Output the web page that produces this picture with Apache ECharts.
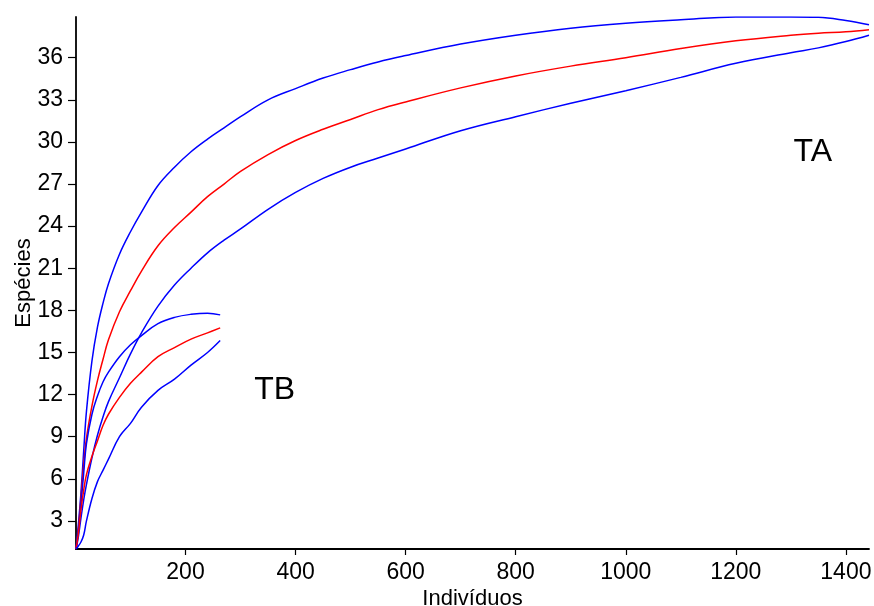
<!DOCTYPE html>
<html>
<head>
<meta charset="utf-8">
<title>Curvas de rarefação</title>
<script src="https://cdn.jsdelivr.net/npm/echarts@6/dist/echarts.min.js"></script>
<style>
  html, body { margin: 0; padding: 0; background: #fff; }
  #chart { width: 874px; height: 606px; }
</style>
</head>
<body>
<div id="chart"></div>
<script>
// Sample sizes (individuals) for each transect
const xTA = [1, 5, 10, 15, 20, 30, 40, 50, 60, 80, 100, 120, 150, 180, 210, 240, 270, 300,
             350, 400, 450, 500, 550, 600, 700, 800, 900, 1000, 1100, 1200, 1300, 1350, 1400, 1442];
const xTB = [1, 5, 10, 15, 20, 30, 40, 50, 60, 80, 100, 120, 150, 180, 210, 240, 263];

// Transect TA: expected species and 95% confidence bounds
const taUpper = [1, 2.6, 5.0, 8.0, 10.8, 14.4, 16.8, 18.5, 19.9, 22.0, 23.6, 25.0, 26.9, 28.2, 29.3, 30.2, 31.0, 31.8,
                 33.0, 33.8, 34.55, 35.15, 35.7, 36.15, 36.97, 37.6, 38.1, 38.45, 38.7, 38.9, 38.9, 38.88, 38.65, 38.35];
const taMean  = [1, 2.3, 4.6, 7.0, 8.9, 11.2, 13.0, 14.5, 15.9, 17.9, 19.4, 20.8, 22.6, 23.9, 25.0, 26.1, 27.0, 27.9,
                 29.1, 30.1, 30.9, 31.6, 32.3, 32.85, 33.85, 34.7, 35.4, 36.0, 36.65, 37.2, 37.6, 37.75, 37.85, 38.0];
const taLower = [1, 1.8, 3.2, 4.5, 5.6, 7.5, 9.1, 10.4, 11.5, 13.2, 14.9, 16.4, 18.3, 19.8, 21.0, 22.1, 23.0, 23.8,
                 25.2, 26.4, 27.4, 28.2, 28.85, 29.5, 30.8, 31.8, 32.75, 33.65, 34.6, 35.6, 36.35, 36.7, 37.15, 37.6];

// Transect TB: expected species and 95% confidence bounds
const tbUpper = [1, 2.2, 4.2, 6.4, 8.5, 10.6, 11.9, 12.9, 13.6, 14.7, 15.55, 16.2, 17.05, 17.5, 17.72, 17.8, 17.68];
const tbMean  = [1, 2.0, 3.8, 5.2, 6.3, 7.6, 8.7, 9.8, 10.6, 11.8, 12.8, 13.6, 14.7, 15.35, 15.95, 16.4, 16.75];
const tbLower = [1, 1.2, 1.5, 2.0, 3.0, 4.6, 5.8, 6.6, 7.4, 9.0, 9.95, 11.1, 12.3, 13.1, 14.1, 15.0, 15.85];

// Axis ticks
const yTicks = [3, 6, 9, 12, 15, 18, 21, 24, 27, 30, 33, 36];
const xTicks = [200, 400, 600, 800, 1000, 1200, 1400];

// Transect names and their anchor points in data space
const transectNames = ['TA', 'TB'];
const transectAnchorX = [1340, 362];
const transectAnchorY = [29.3, 12.35];

const BLUE = '#0000ff';
const RED = '#ff0000';
const FONT = '"Liberation Sans", Arial, sans-serif';

function pairs(xs, ys) {
  return xs.map((x, i) => [x, ys[i]]);
}

function curve(name, xs, ys, color) {
  return {
    name: name,
    type: 'line',
    data: pairs(xs, ys),
    showSymbol: false,
    smooth: 0.4,
    lineStyle: { color: color, width: 1.5 },
    silent: true,
    animation: false
  };
}

const chart = echarts.init(document.getElementById('chart'), null, { renderer: 'canvas' });

chart.setOption({
  backgroundColor: '#ffffff',
  animation: false,
  grid: { left: 76, right: 5, top: 17, bottom: 57, outerBoundsMode: 'none', containLabel: false },
  xAxis: {
    type: 'value',
    min: 1,
    max: 1442,
    name: 'Indivíduos',
    nameLocation: 'middle',
    nameGap: 39,
    nameMoveOverlap: false,
    nameTextStyle: { fontFamily: FONT, fontSize: 22, color: '#000' },
    axisLine: { show: true, lineStyle: { color: '#000', width: 1.8 } },
    axisTick: { show: true, inside: false, length: 6, customValues: xTicks, lineStyle: { color: '#000', width: 1.2 } },
    axisLabel: {
      customValues: xTicks, margin: 12, fontFamily: FONT, fontSize: 23, color: '#000',
      formatter: v => String(v)
    },
    splitLine: { show: false }
  },
  yAxis: {
    type: 'value',
    min: 1,
    max: 38.9,
    name: 'Espécies',
    nameLocation: 'middle',
    nameGap: 41,
    nameRotate: 90,
    nameMoveOverlap: false,
    nameTextStyle: { fontFamily: FONT, fontSize: 22, color: '#000' },
    axisLine: { show: true, lineStyle: { color: '#000', width: 1.8 } },
    axisTick: { show: true, inside: false, length: 8, customValues: yTicks, lineStyle: { color: '#000', width: 1.2 } },
    axisLabel: {
      customValues: yTicks, margin: 13, fontFamily: FONT, fontSize: 23, color: '#000',
      formatter: v => String(v)
    },
    splitLine: { show: false }
  },
  series: [
    curve('TA superior', xTA, taUpper, BLUE),
    curve('TA', xTA, taMean, RED),
    curve('TA inferior', xTA, taLower, BLUE),
    curve('TB superior', xTB, tbUpper, BLUE),
    curve('TB', xTB, tbMean, RED),
    curve('TB inferior', xTB, tbLower, BLUE),
    {
      name: 'rótulos',
      type: 'scatter',
      symbolSize: 1,
      silent: true,
      itemStyle: { opacity: 1, color: 'rgba(0,0,0,0)' },
      data: transectNames.map((n, i) => ({ name: n, value: [transectAnchorX[i], transectAnchorY[i]] })),
      label: {
        show: true,
        position: 'inside',
        formatter: p => p.name,
        fontFamily: FONT,
        fontSize: 32,
        color: '#000',
        opacity: 1
      }
    }
  ]
});
</script>
</body>
</html>
